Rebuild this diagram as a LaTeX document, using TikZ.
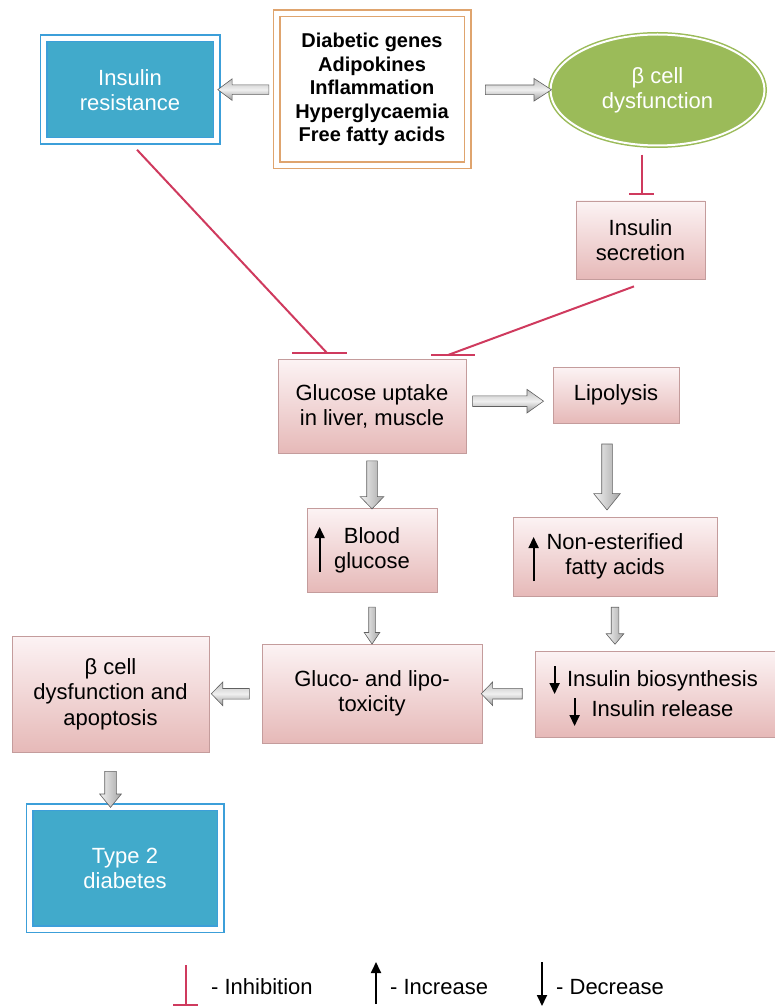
\documentclass[tikz,border=0pt]{standalone}
\usepackage{fontspec}
\setmainfont{Liberation Sans}
\usetikzlibrary{shapes.geometric,shapes.arrows,arrows.meta}

\definecolor{irblue}{HTML}{41AACB}
\definecolor{irline}{HTML}{3C9FD9}
\definecolor{orgline}{HTML}{DFA46E}
\definecolor{bcgreen}{HTML}{9BBB59}
\definecolor{pinktop}{HTML}{FCF3F4}
\definecolor{pinkbot}{HTML}{E6B9B8}
\definecolor{pinkline}{HTML}{C49C9C}
\definecolor{inhred}{HTML}{CF3A5E}

\tikzset{
  txt/.style={font=\fontsize{22}{25}\selectfont, align=center, inner sep=0pt},
  pinkbox/.style={txt, draw=pinkline, line width=0.8pt, top color=pinktop, bottom color=pinkbot},
  bluebox/.style={txt, text=white, fill=irblue, draw=irline, line width=1.5pt, double=white, double distance=5pt},
  factbox/.style={font=\bfseries\fontsize{20}{23.5}\selectfont, align=center, inner sep=0pt, fill=white, draw=orgline, line width=1.5pt, double=white, double distance=5pt},
  bcell/.style={txt, ellipse, text=white, fill=bcgreen, draw=bcgreen, line width=1.5pt, double=white, double distance=2pt},
  blk/.style={single arrow, draw=gray!75!black, line width=0.6pt, minimum width=0pt},
  arrR/.style={blk, top color=gray!50, bottom color=gray!80, middle color=gray!12},
  arrL/.style={arrR, shape border rotate=180},
  arrD/.style={blk, left color=gray!10, right color=gray!70, shape border rotate=270},
  inh/.style={draw=inhred, line width=2pt},
  sym/.style={line width=1.8pt, -{Triangle[length=11pt,width=10pt]}}
}

\begin{document}
\begin{tikzpicture}[x=1pt, y=-1pt]
\useasboundingbox (0,0) rectangle (775,1008);

% causes and first effects
\node[factbox, minimum width=191pt, minimum height=152pt] (org) at (372,89.5)
  {Diabetic genes\\Adipokines\\Inflammation\\Hyperglycaemia\\Free fatty acids};
\node[bluebox, minimum width=173pt, minimum height=102.5pt] (ir) at (130,89.75) {Insulin\\resistance};
\node[bcell, minimum width=214pt, minimum height=111pt] (bc) at (657.5,90) {β cell\\dysfunction};
\node[pinkbox, minimum width=129pt, minimum height=78pt] (sec) at (640.5,240) {Insulin\\secretion};

% middle chain
\node[pinkbox, minimum width=188pt, minimum height=94pt] (glu) at (372,406) {Glucose uptake\\in liver, muscle};
\node[pinkbox, minimum width=126pt, minimum height=56pt] (lip) at (616,395) {Lipolysis};
\node[pinkbox, minimum width=130pt, minimum height=84pt] (bg) at (372,550) {Blood\\glucose};
\node[pinkbox, minimum width=204pt, minimum height=79pt] (nefa) at (615,556.5) {Non-esterified\\fatty acids};
\node[pinkbox, minimum width=220pt, minimum height=99pt] (tox) at (372,693.5) {Gluco- and lipo-\\toxicity};
\node[pinkbox, minimum width=255pt, minimum height=86pt] (ins) at (662.5,694) {Insulin biosynthesis\\[5pt]Insulin release};
\node[pinkbox, minimum width=197pt, minimum height=116pt] (apo) at (110.5,694) {β cell\\dysfunction and\\[1pt]apoptosis};
\node[bluebox, minimum width=191pt, minimum height=122pt] (t2d) at (125,868) {Type 2\\diabetes};

% block arrows
\path (org.west) -- (ir.east) node[arrL, midway, inner sep=4.5pt, single arrow head extend=6pt, single arrow tip angle=74, minimum height=51pt] (a1) {};
\path (org.east) -- (bc.west) node[arrR, pos=.57, inner sep=4.5pt, single arrow head extend=6.5pt, single arrow tip angle=66, minimum height=66pt] (a2) {};
\path (glu.east) -- (lip.west) node[arrR, pos=.44, inner sep=5pt, single arrow head extend=6.5pt, single arrow tip angle=71, minimum height=71pt] (a3) {};
\path (glu.south) -- (bg.north) node[arrD, pos=.53, inner sep=5pt, single arrow head extend=6.5pt, single arrow tip angle=88, minimum height=48pt] (a4) {};
\path ([xshift=-9pt]lip.south) -- ([xshift=-8pt]nefa.north) node[arrD, pos=.54, inner sep=5pt, single arrow head extend=8pt, single arrow tip angle=78, minimum height=66pt] (a5) {};
\path (bg.south) -- (tox.north) node[arrD, pos=.6, inner sep=3pt, single arrow head extend=4.5pt, single arrow tip angle=68, minimum height=37pt] (a6) {};
\path (nefa.south) -- (nefa.south |- ins.north) node[arrD, midway, inner sep=3.5pt, single arrow head extend=5pt, single arrow tip angle=80, minimum height=37pt] (a7) {};
\path (ins.west) -- (tox.east) node[arrL, pos=.58, inner sep=5pt, single arrow head extend=6.5pt, single arrow tip angle=92, minimum height=41pt] (a8) {};
\path (tox.west) -- (apo.east) node[arrL, pos=.55, inner sep=5pt, single arrow head extend=6.5pt, single arrow tip angle=92, minimum height=38pt] (a9) {};
\path (apo.south) -- (apo.south |- t2d.north) node[arrD, pos=.62, inner sep=5.5pt, single arrow head extend=5pt, single arrow tip angle=78, minimum height=36pt] (a10) {};

% inhibitions
\coordinate (b0) at (641.5,194);
\coordinate (b1) at (327,353);
\coordinate (b2) at (448,355);
\draw[inh] ([xshift=-16pt,yshift=-8.5pt]bc.south) -- (b0);
\draw[inh] ([xshift=-12.5pt]b0) -- ([xshift=12.5pt]b0);
\draw[inh] ([xshift=7pt,yshift=-8pt]ir.south) -- (b1);
\draw[inh] ([xshift=-35pt]b1) -- ([xshift=20pt]b1);
\draw[inh] ([xshift=-6.5pt,yshift=-7pt]sec.south) -- (b2);
\draw[inh] ([xshift=-17pt]b2) -- ([xshift=27pt]b2);

% up and down marks
\draw[sym] ([xshift=13pt,yshift=-22pt]bg.west) -- ([xshift=13pt,yshift=23pt]bg.west);
\draw[sym] ([xshift=21pt,yshift=-24.5pt]nefa.west) -- ([xshift=21pt,yshift=19.5pt]nefa.west);
\draw[sym] ([xshift=20pt,yshift=28pt]ins.west) -- ([xshift=20pt,yshift=0pt]ins.west);
\draw[sym] ([xshift=40pt,yshift=-4pt]ins.west) -- ([xshift=40pt,yshift=-32pt]ins.west);

% legend
\node[txt, anchor=west] (l1) at (211,987) {- Inhibition};
\node[txt, anchor=west] (l2) at (390,987) {- Increase};
\node[txt, anchor=west] (l3) at (556,987) {- Decrease};
\coordinate (k1) at (186,1005);
\draw[inh] (k1) -- +(0,-40);
\draw[inh] ([xshift=-13pt]k1) -- ([xshift=12pt]k1);
\draw[sym] (376,1004) -- (376,962);
\draw[sym] (542,962) -- (542,1006);
\end{tikzpicture}
\end{document}
